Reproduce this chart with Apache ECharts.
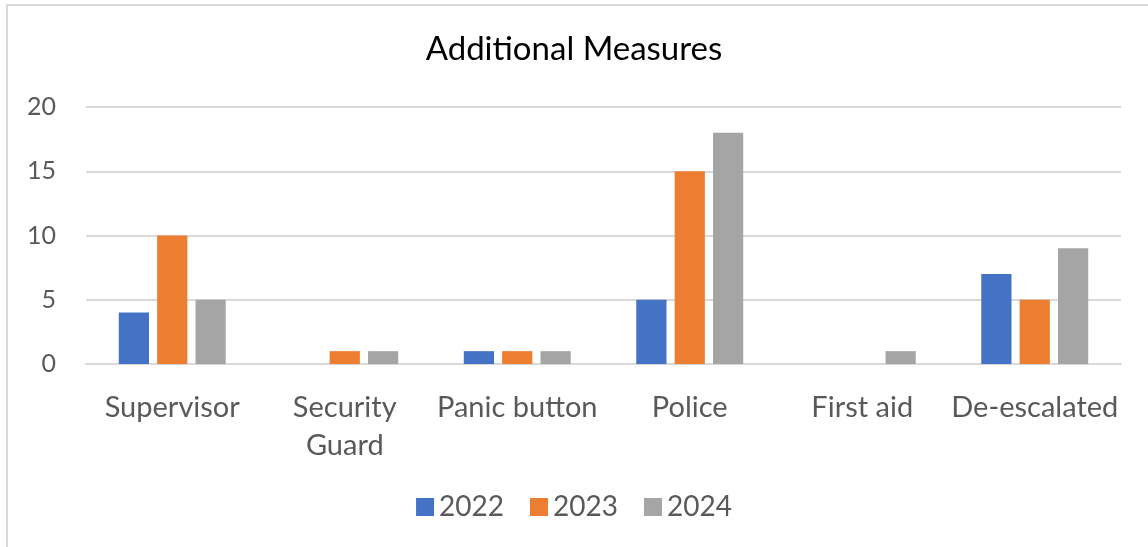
<!DOCTYPE html>
<html>
<head>
<meta charset="utf-8">
<style>
  html, body { margin: 0; padding: 0; background: #fff; }
  #chart { width: 1148px; height: 547px; }
</style>
<script src="https://cdn.jsdelivr.net/npm/echarts@6/dist/echarts.min.js"></script>
</head>
<body>
<div id="chart"></div>
<script>
const categories = ['Supervisor', 'Security\nGuard', 'Panic button', 'Police', 'First aid', 'De-escalated'];
const years = ['2022', '2023', '2024'];
const values2022 = [4, 0, 1, 5, 0, 7];
const values2023 = [10, 1, 1, 15, 0, 5];
const values2024 = [5, 1, 1, 18, 1, 9];
const colors = ['#4472C4', '#ED7D31', '#A5A5A5'];

const chart = echarts.init(document.getElementById('chart'));
const font = 'Lato, "Open Sans", sans-serif';

const seriesData = [values2022, values2023, values2024];

chart.setOption({
  animation: false,
  textStyle: { fontFamily: font },
  title: {
    text: 'Additional Measures',
    left: 'center',
    top: 28,
    textStyle: { fontFamily: font, fontSize: 33, fontWeight: 'normal', color: '#000' }
  },
  graphic: [{
    type: 'rect',
    shape: { x: 7, y: 5, width: 1300, height: 700 },
    style: { fill: 'none', stroke: '#d9d9d9', lineWidth: 2 },
    silent: true
  }],
  legend: {
    data: years,
    bottom: 21,
    left: 'center',
    icon: 'rect',
    itemWidth: 18,
    itemHeight: 18,
    itemGap: 26,
    textStyle: { fontFamily: font, fontSize: 28, color: '#595959' }
  },
  grid: { left: 86, right: 27, top: 107, bottom: 183 },
  xAxis: {
    type: 'category',
    data: categories,
    axisLine: { lineStyle: { color: '#d9d9d9', width: 2 } },
    axisTick: { show: false },
    axisLabel: {
      fontFamily: font, fontSize: 29, color: '#595959',
      margin: 25, lineHeight: 38, interval: 0
    }
  },
  yAxis: {
    type: 'value',
    min: 0,
    max: 20,
    interval: 5,
    axisLine: { show: false },
    axisTick: { show: false },
    splitLine: { lineStyle: { color: '#d9d9d9', width: 2 } },
    axisLabel: { fontFamily: font, fontSize: 25, color: '#595959', margin: 30 }
  },
  series: years.map((y, i) => ({
    name: y,
    type: 'bar',
    data: seriesData[i],
    itemStyle: { color: colors[i] },
    barGap: '27%',
    barCategoryGap: '38%'
  }))
});
</script>
</body>
</html>
